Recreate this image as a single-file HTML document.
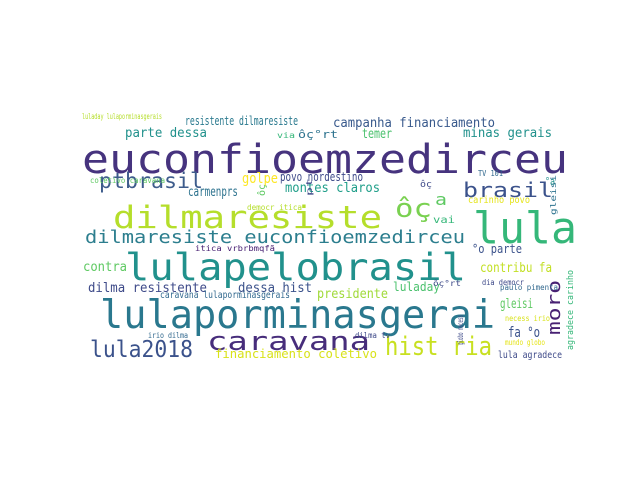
<!DOCTYPE html>
<html><head><meta charset="utf-8"><style>
html,body{margin:0;padding:0;background:#fff;width:640px;height:480px;overflow:hidden}
svg{display:block}
text{font-family:"DejaVu Sans Mono","Liberation Mono",monospace}
</style></head><body>
<svg id="cloud" width="640" height="480" viewBox="0 0 640 480" xmlns="http://www.w3.org/2000/svg"></svg>
<script>
// word list: text, left x, baseline y, font size, rendered width, colour, rotated
const words = ["euconfioemzedirceu","dilmaresiste","lulapelobrasil","lulaporminasgerai","lula","caravana","lula2018","hist ria","brasil","ptbrasil","dilmaresiste euconfioemzedirceu","ôç","a","moro","campanha financiamento","minas gerais","temer","parte dessa","resistente dilmaresiste","ôç°rt","golpe","povo nordestino","carmenprs","montes claros","carinho povo","vai","°a","contra","dilma resistente","dessa hist","caravana lulaporminasgerais","presidente","luladay","contribu fa","°o parte","gleisi","fa °o","lula agradece","financiamento coletivo","agradece carinho","dia democr","paulo pimenta","necess irio","mundo globo","ôç°rt","TV 101","democr itica","luladay lulaporminasgerais","coletivo caravana","dilma tv","irio dilma","itica vrbrbmqfã","ôç","pt","ôç","via","globo necess","gleisi"];
const xs = [82,113,125,100,473,207,90,385,463,99,85,395,435,560,333,463,362,125,185,298,242,280,188,285,468,433,545,83,88,238,160,317,393,480,472,500,508,498,215,573,482,500,505,505,433,478,247,82,90,355,148,195,265,312,420,277,463,556];
const ys = [173,228,280,328,243,350,357,355,197,188,243,217,205,335,127,137,138,137,125,138,183,181,196,192,203,223,185,271,292,292,298,298,291,272,253,308,337,358,358,350,285,290,321,345,286,176,210,119,183,338,338,251,196,196,187,138,345,215];
const sizes = [40,31,37,39,44,26,23,26,20,21,18,26,16,18,13,13,13,13,12,11,14,12,13,13,10,10,11,13,13,13,10,13,12,13,12,13,14,10,12,9,8,8,8,8,8,8,8,8,8,8,8,8,10,8,9,8,8,8];
const widths = [486,269,341,395,104,163,103,107,90,104,380,37,12,55,162,89,30,82,113,40,36,83,50,95,62,22,10,44,119,74,130,71,47,72,50,33,32,64,162,80,42,58,45,40,28,25,55,80,75,35,40,80,12,18,12,18,30,40];
const colors = ["#46337e","#b5de2b","#21918c","#2a788e","#35b779","#472d7b","#3b528b","#c8e020","#3b528b","#3e5c8c","#2c7e8e","#7ad151","#5ec962","#482173","#38598c","#21918c","#4ac16d","#21918c","#29798e","#2c728e","#fde725","#3e4a89","#2c728e","#1f9e89","#e5e419","#35b779","#21918c","#5ec962","#3e4a89","#3b528b","#31688e","#a0da39","#4ac16d","#c2df23","#3b528b","#5ec962","#3b528b","#3e4a89","#d8e219","#35b779","#3e4a89","#31688e","#d8e219","#e5e419","#3e4a89","#31688e","#b5de2b","#b5de2b","#5ec962","#3e4a89","#31688e","#482173","#5ec962","#3e4a89","#3e4a89","#35b779","#3e4a89","#2c728e"];
const vertical = [0,0,0,0,0,0,0,0,0,0,0,0,0,1,0,0,0,0,0,0,0,0,0,0,0,0,0,0,0,0,0,0,0,0,0,0,0,0,0,1,0,0,0,0,0,0,0,0,0,0,0,0,1,1,0,0,1,1];

const NS = "http://www.w3.org/2000/svg";
const svg = document.getElementById('cloud');
for (let i = 0; i < words.length; i++) {
  const t = document.createElementNS(NS, 'text');
  
  
  t.setAttribute('font-size', sizes[i]);
  t.setAttribute('fill', colors[i]);
  t.setAttribute('textLength', widths[i]);
  t.setAttribute('lengthAdjust', 'spacingAndGlyphs');
  if (vertical[i]) {
    t.setAttribute('x', 0);
    t.setAttribute('y', 0);
    t.setAttribute('transform', 'translate(' + xs[i] + ',' + ys[i] + ') rotate(-90)');
  } else {
    t.setAttribute('x', xs[i]);
    t.setAttribute('y', ys[i]);
  }
  t.textContent = words[i];
  svg.appendChild(t);
}
</script>
</body></html>
